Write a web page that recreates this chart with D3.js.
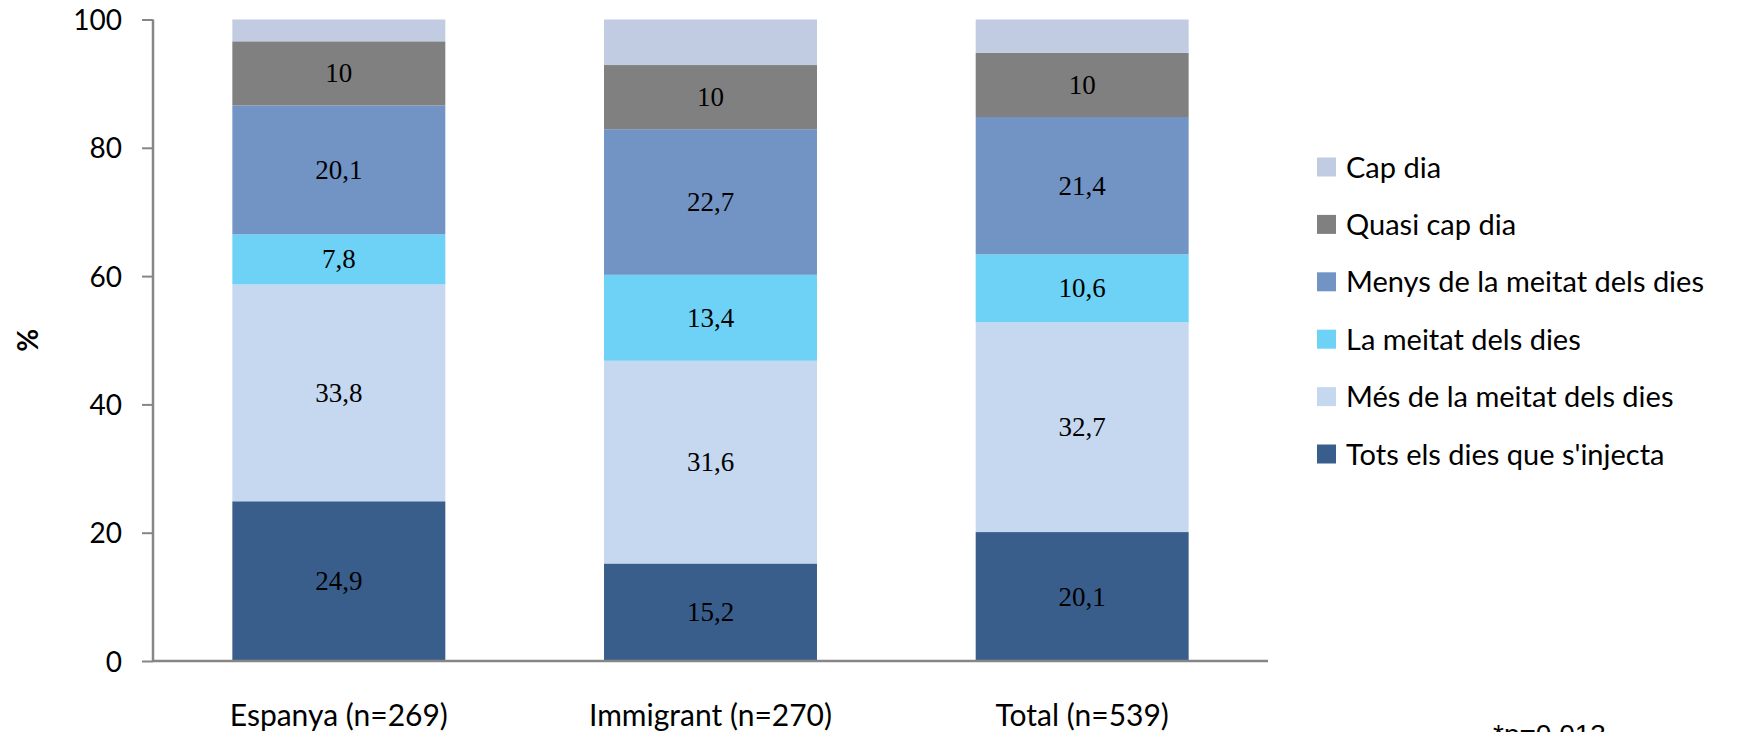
<!DOCTYPE html>
<html>
<head>
<meta charset="utf-8">
<script src="https://cdn.jsdelivr.net/npm/d3@7"></script>
<style>
  html, body { margin: 0; padding: 0; background: #ffffff; }
  svg { display: block; }
</style>
</head>
<body>
<svg id="chart" width="1751" height="732"></svg>
<script>
// ---- Data ----
const categories = ["Espanya (n=269)", "Immigrant (n=270)", "Total (n=539)"];
const seriesNames = [
  "Tots els dies que s'injecta",
  "Més de la meitat dels dies",
  "La meitat dels dies",
  "Menys de la meitat dels dies",
  "Quasi cap dia",
  "Cap dia"
];
const totsElsDies   = [24.9, 15.2, 20.1];
const mesDeLaMeitat = [33.8, 31.6, 32.7];
const laMeitat      = [7.8, 13.4, 10.6];
const menysDeLaMeitat = [20.1, 22.7, 21.4];
const quasiCapDia   = [10, 10, 10];
const capDia        = [3.4, 7.1, 5.2];
const yTicks = [0, 20, 40, 60, 80, 100];
const footnote = "*p=0,013";

const seriesValues = [totsElsDies, mesDeLaMeitat, laMeitat, menysDeLaMeitat, quasiCapDia, capDia];
const showLabel = [true, true, true, true, true, false];
const colors = ["#3A5E8B", "#C6D8F0", "#6DD2F6", "#7294C5", "#808080", "#C1CCE2"];

// ---- Layout ----
const svg = d3.select("#chart");
const plotLeft = 153, plotRight = 1268, plotTop = 19.5, plotBottom = 661;
const sans = "Lato, 'Open Sans', sans-serif";

const x = d3.scaleBand().domain(categories).range([plotLeft, plotRight])
  .paddingInner(0.427).paddingOuter(0.2135);
const y = d3.scaleLinear().domain([0, 100]).range([plotBottom, plotTop]);

// stack data
const rows = categories.map((c, i) => {
  const r = { cat: c };
  seriesNames.forEach((s, j) => r[s] = seriesValues[j][i]);
  return r;
});
const stacked = d3.stack().keys(seriesNames)(rows);

const fmt = v => String(v).replace(".", ",");

// bars
const g = svg.append("g");
stacked.forEach((layer, j) => {
  g.selectAll(null).data(layer).enter().append("rect")
    .attr("x", d => x(d.data.cat))
    .attr("width", x.bandwidth())
    .attr("y", d => y(d[1]))
    .attr("height", d => y(d[0]) - y(d[1]))
    .attr("fill", colors[j]);
});

// value labels
stacked.forEach((layer, j) => {
  if (!showLabel[j]) return;
  g.selectAll(null).data(layer).enter().append("text")
    .attr("x", d => x(d.data.cat) + x.bandwidth() / 2)
    .attr("y", d => (y(d[0]) + y(d[1])) / 2 + 9)
    .attr("text-anchor", "middle")
    .attr("font-family", "'Liberation Serif', 'Times New Roman', serif")
    .attr("font-size", 27)
    .attr("fill", "#000")
    .text(d => fmt(d.data[seriesNames[j]]));
});

// y axis
const axisColor = "#868686";
const yAxis = svg.append("g").attr("transform", `translate(${plotLeft},0)`)
  .call(d3.axisLeft(y).tickValues(yTicks).tickSize(11).tickPadding(20).tickFormat(d3.format("d")));
yAxis.select(".domain").attr("stroke", axisColor).attr("stroke-width", 2.5)
  .attr("d", `M0,${plotTop}V${plotBottom}`);
yAxis.selectAll(".tick line").attr("stroke", axisColor).attr("stroke-width", 2);
yAxis.selectAll(".tick text")
  .attr("font-family", sans).attr("font-size", 28).attr("fill", "#000")
  .attr("dy", "0.36em");

// x axis
const xAxis = svg.append("g").attr("transform", `translate(0,${plotBottom})`)
  .call(d3.axisBottom(x).tickSize(0).tickPadding(0));
xAxis.select(".domain").attr("stroke", axisColor).attr("stroke-width", 2.5)
  .attr("d", `M${plotLeft},0H${plotRight}`);
xAxis.selectAll(".tick text")
  .attr("font-family", sans).attr("font-size", 30).attr("fill", "#000")
  .attr("dy", 0).attr("y", 65);

// y title
svg.append("text")
  .attr("transform", `translate(38,${(plotTop + plotBottom) / 2}) rotate(-90)`)
  .attr("text-anchor", "middle")
  .attr("font-family", sans).attr("font-weight", "bold").attr("font-size", 28)
  .text("%");

// legend (top: Cap dia ... bottom: Tots)
const legendOrder = seriesNames.map((s, j) => j).reverse();
const lg = svg.append("g");
legendOrder.forEach((j, k) => {
  const cy = 167 + k * 57.4;
  lg.append("rect").attr("x", 1317).attr("y", cy - 9.5).attr("width", 19).attr("height", 19)
    .attr("fill", colors[j]);
  lg.append("text").attr("x", 1346).attr("y", cy + 10.5)
    .attr("font-family", sans).attr("font-size", 29).attr("fill", "#000")
    .text(seriesNames[j]);
});

// footnote (partly cut off at the bottom edge, as in the original)
svg.append("text").attr("x", 1493).attr("y", 744)
  .attr("font-family", "'Liberation Sans', Arial, sans-serif").attr("font-size", 28)
  .attr("fill", "#000").text(footnote);
</script>
</body>
</html>
